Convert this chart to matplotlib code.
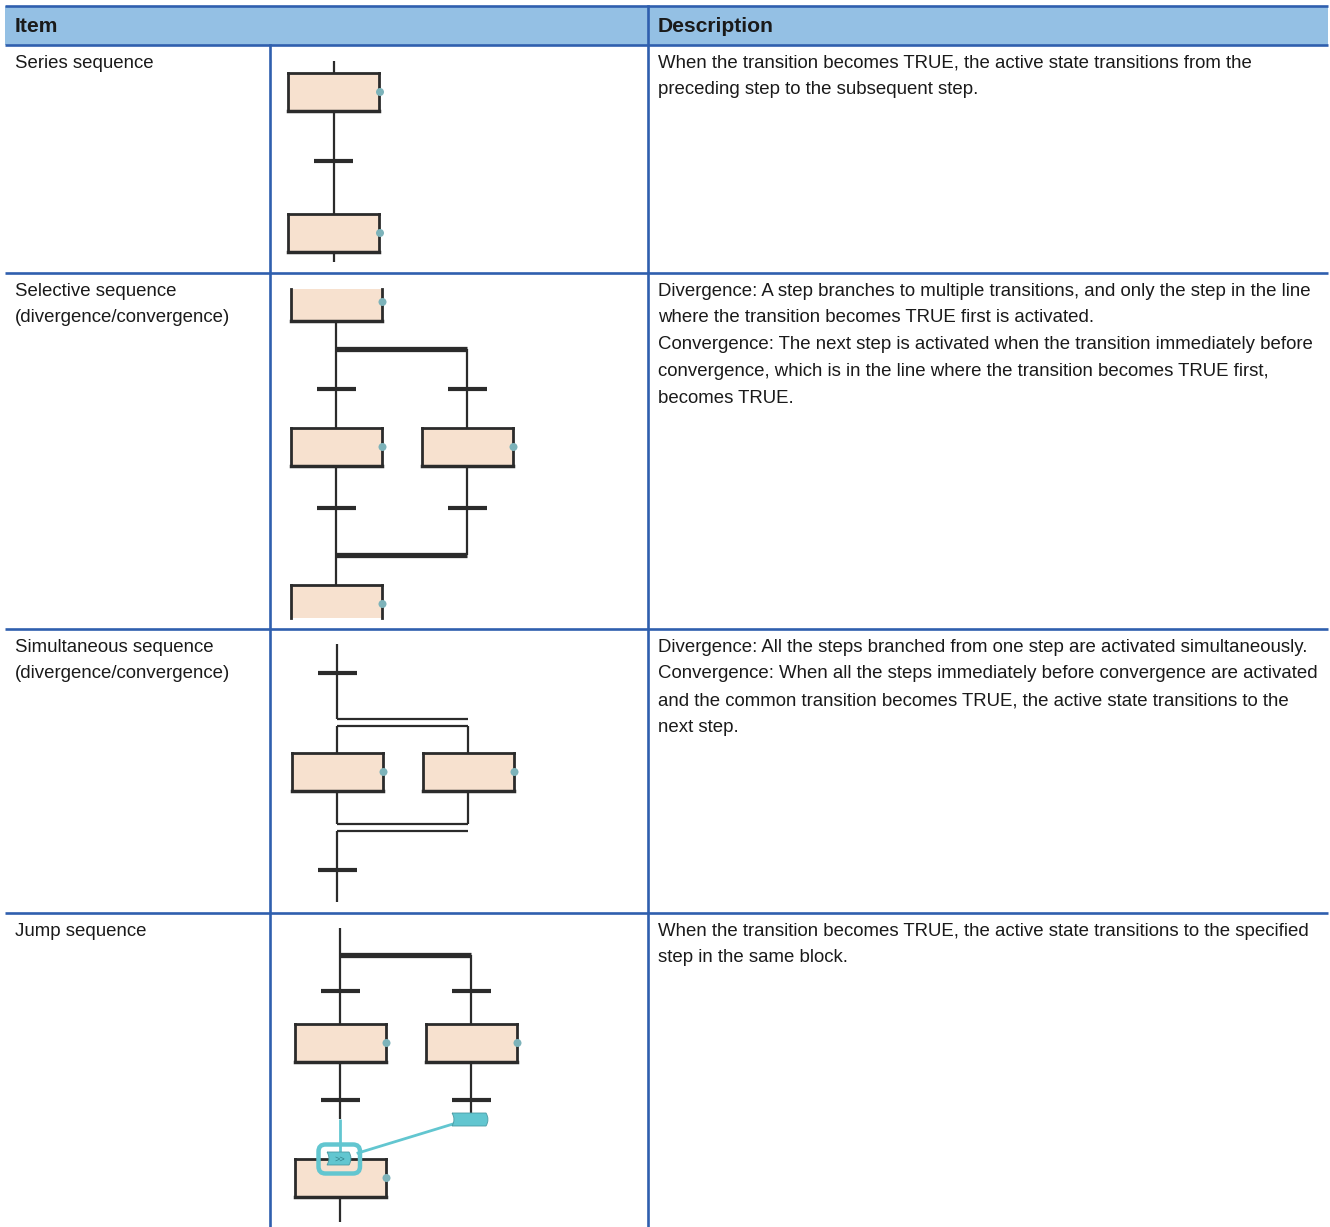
import matplotlib.pyplot as plt
from matplotlib.patches import Rectangle, FancyBboxPatch, PathPatch, Circle
from matplotlib.path import Path

# table content
header = ['Item', 'Description']
items = [['Series sequence'],
         ['Selective sequence', '(divergence/convergence)'],
         ['Simultaneous sequence', '(divergence/convergence)'],
         ['Jump sequence']]
descriptions = [
    ['When the transition becomes TRUE, the active state transitions from the',
     'preceding step to the subsequent step.'],
    ['Divergence: A step branches to multiple transitions, and only the step in the line',
     'where the transition becomes TRUE first is activated.',
     'Convergence: The next step is activated when the transition immediately before',
     'convergence, which is in the line where the transition becomes TRUE first,',
     'becomes TRUE.'],
    ['Divergence: All the steps branched from one step are activated simultaneously.',
     'Convergence: When all the steps immediately before convergence are activated',
     'and the common transition becomes TRUE, the active state transitions to the',
     'next step.'],
    ['When the transition becomes TRUE, the active state transitions to the specified',
     'step in the same block.'],
]

W, H = 1330, 1227
BLUE = '#2f5fae'
HEAD = '#94c0e4'
PEACH = '#f7e1cf'
DARK = '#2b2b2b'
DOT = '#7db3ba'
TEAL = '#62c6d0'
TXT = '#1a1a1a'
FONT = 'Liberation Sans'

fig = plt.figure(figsize=(W / 100, H / 100), dpi=100)
ax = fig.add_axes([0, 0, 1, 1])
ax.set_xlim(0, W)
ax.set_ylim(H, 0)
ax.axis('off')

# grid of the table
left, c1, c2, right = 5, 270, 648, 1328
head_top, head_bot = 6, 45
row_tops = [head_bot, 273, 629, 913]

ax.add_patch(Rectangle((left, head_top), right - left, head_bot - head_top,
                       facecolor=HEAD, edgecolor='none'))
for y in [head_top, head_bot] + row_tops[1:]:
    ax.plot([left, right], [y, y], color=BLUE, lw=1.9, solid_capstyle='butt')
ax.plot([c2, c2], [head_top, H], color=BLUE, lw=1.9)
ax.plot([c1, c1], [head_bot, H], color=BLUE, lw=1.9)

ax.text(15, 31.5, header[0], fontsize=15.2, fontweight='bold', family=FONT, color=TXT)
ax.text(658, 31.5, header[1], fontsize=15.2, fontweight='bold', family=FONT, color=TXT)

line_gap = 26.8
for top, item, desc in zip(row_tops, items, descriptions):
    for i, s in enumerate(item):
        ax.text(15, top + 22.7 + i * line_gap, s, fontsize=13.4, family=FONT, color=TXT)
    for i, s in enumerate(desc):
        ax.text(658, top + 22.7 + i * line_gap, s, fontsize=13.4, family=FONT, color=TXT)


# SFC drawing helpers (pixel units)
def vline(x, y0, y1, color=DARK, lw=1.6):
    ax.plot([x, x], [y0, y1], color=color, lw=lw, solid_capstyle='butt', zorder=2)


def hline(y, x0, x1, lw=1.6):
    ax.plot([x0, x1], [y, y], color=DARK, lw=lw, solid_capstyle='butt', zorder=2)


def trans(x, y):
    ax.plot([x - 19.5, x + 19.5], [y, y], color=DARK, lw=3.0, solid_capstyle='butt', zorder=3)


def step(xc, y0, clip_top=None, clip_bot=None, w=91, h=38):
    x0, x1 = xc - w / 2, xc + w / 2
    yt = y0 if clip_top is None else clip_top
    yb = y0 + h if clip_bot is None else clip_bot
    ax.add_patch(Rectangle((x0, yt), w, yb - yt, facecolor=PEACH, edgecolor='none', zorder=3))
    kw = dict(color=DARK, lw=2.0, zorder=4, solid_capstyle='projecting')
    ax.plot([x0, x0], [yt, yb], **kw)
    ax.plot([x1, x1], [yt, yb], **kw)
    if clip_top is None:
        ax.plot([x0, x1], [yt, yt], **kw)
    if clip_bot is None:
        ax.plot([x0, x1], [yb, yb], color=DARK, lw=2.5, zorder=4, solid_capstyle='projecting')
    ax.add_patch(Circle((x1 + 1, y0 + h / 2), 4.0, facecolor=DOT, edgecolor='none', zorder=5))


def tag(x0, y0, w, h, lw=0.6):
    b = 4
    verts = [(x0, y0), (x0 + w - b, y0), (x0 + w, y0 + h / 2), (x0 + w - b, y0 + h),
             (x0, y0 + h), (x0 + b, y0 + h / 2), (x0, y0)]
    codes = [Path.MOVETO, Path.LINETO, Path.CURVE3, Path.CURVE3,
             Path.LINETO, Path.CURVE3, Path.CURVE3]
    ax.add_patch(PathPatch(Path(verts, codes), facecolor=TEAL, edgecolor='#4a9aa3',
                           lw=lw, zorder=6))


# series sequence
xs = 333.5
vline(xs, 61, 73)
step(xs, 73)
vline(xs, 111, 214)
trans(xs, 161)
step(xs, 214)
vline(xs, 252, 262)

# selective sequence
xl, xr = 336, 467
step(xl, 283, clip_top=289)
vline(xl, 321, 349)
hline(349, xl, xr, lw=3.8)
for x in (xl, xr):
    vline(x, 349, 428)
    trans(x, 389)
    step(x, 428)
    vline(x, 466, 555)
    trans(x, 508)
hline(555, xl, xr, lw=3.8)
vline(xl, 555, 585)
step(xl, 585, clip_bot=618)

# simultaneous sequence
xl, xr = 337, 468
vline(xl, 644, 719)
trans(xl, 673)
hline(719, xl, xr)
hline(726, xl, xr)
for x in (xl, xr):
    vline(x, 726, 753)
    step(x, 753)
    vline(x, 791, 824)
hline(824, xl, xr)
hline(831, xl, xr)
vline(xl, 831, 902)
trans(xl, 870)

# jump sequence
xl, xr = 340, 471
vline(xl, 928, 955)
hline(955, xl, xr, lw=3.8)
for x in (xl, xr):
    vline(x, 955, 1024)
    trans(x, 991)
    step(x, 1024)
    trans(x, 1100)
vline(xl, 1062, 1119)
vline(xr, 1062, 1113)
vline(xl, 1119, 1154, color=TEAL, lw=2.0)
tag(452, 1113, 38, 13)
ax.plot([453, 358], [1124, 1153], color=TEAL, lw=2.0, zorder=5)
step(xl, 1159)
vline(xl, 1197, 1222)
tag(327, 1152, 26, 13)
ax.text(339.5, 1159, '>>', fontsize=6.5, family=FONT, color='#2f7f88',
        ha='center', va='center', zorder=7)
ax.add_patch(FancyBboxPatch((318.5, 1144.5), 41.5, 29,
                            boxstyle='round,pad=0,rounding_size=7',
                            facecolor='none', edgecolor=TEAL, lw=3.2, zorder=8))

fig.savefig('out.png', dpi=100)
